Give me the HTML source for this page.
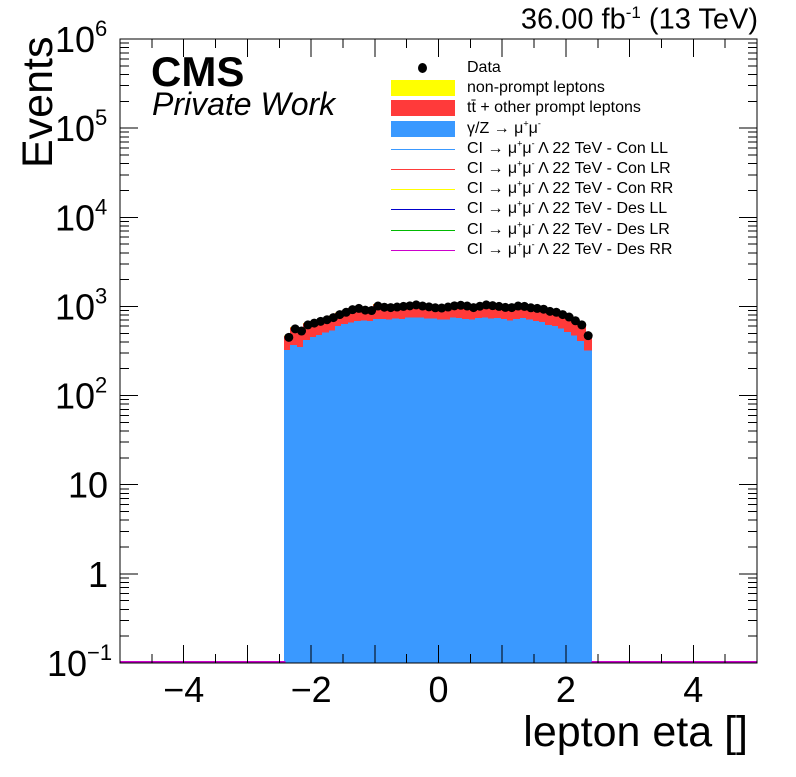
<!DOCTYPE html>
<html><head><meta charset="utf-8"><style>
body{margin:0;background:#fff;}
svg text{font-family:"Liberation Sans",sans-serif;}
.le{position:relative;height:20.2px;white-space:nowrap}
.le .t{position:absolute;left:77px;white-space:nowrap}
sup.s{font-size:9px;line-height:0}
</style></head><body>
<svg id="c" width="796" height="772" xmlns="http://www.w3.org/2000/svg" shape-rendering="crispEdges"></svg>
<script>
const binEdgesStart = -2.4;
const binWidth = 0.1;
const dataVals = [450,560,530,620,650,680,710,750,810,860,920,950,910,900,1010,980,970,985,1000,1015,1040,1010,990,965,960,985,1015,1030,1010,970,1005,1040,1020,1000,975,970,1010,1000,965,950,930,880,860,810,760,690,620,470];
const bluePart = [0.72,0.66,0.66,0.68,0.7,0.7,0.72,0.72,0.74,0.74,0.72,0.72,0.76,0.76,0.72,0.74,0.74,0.74,0.72,0.74,0.72,0.74,0.74,0.76,0.74,0.72,0.74,0.72,0.72,0.74,0.74,0.72,0.72,0.74,0.74,0.72,0.72,0.74,0.74,0.72,0.72,0.7,0.7,0.7,0.68,0.68,0.66,0.68];
const yellowVals = [5,8,6,5,6,5,6,7,8,8,9,10,10,12,14,12,18,20,15,14,12,12,14,16,20,18,24,30,28,20,16,14,12,10,10,9,9,8,8,8,7,7,6,6,5,5,5,5];
const xTickLabels = ["\u22124","\u22122","0","2","4"];
const xTickVals = [-4,-2,0,2,4];

const L=120,R=757,T=39,B=663,xmin=-5,xmax=5,ymin=-1,ymax=6;
const X=v=>L+(v-xmin)/(xmax-xmin)*(R-L);
const Y=v=>B-(Math.log10(v)-ymin)/(ymax-ymin)*(B-T);
const svg=document.getElementById('c');
const NS='http://www.w3.org/2000/svg';
function mk(tag,attrs,parent){const e=document.createElementNS(NS,tag);for(const k in attrs)e.setAttribute(k,attrs[k]);(parent||svg).appendChild(e);return e;}

const gH=mk('g',{});


for(let i=0;i<dataVals.length;i++){
  const x0=Math.floor(X(binEdgesStart+i*binWidth))-1,x1=Math.ceil(X(binEdgesStart+(i+1)*binWidth));
  const tot=dataVals[i]*1.05;
  const blue=dataVals[i]*bluePart[i];
  const redTop=tot-yellowVals[i];
  const ry=mk('rect',{x:x0,y:Y(tot),width:x1-x0,height:B-Y(tot),fill:'#ffff00'},gH);
  
  
  const rr=mk('rect',{x:x0,y:Y(redTop),width:x1-x0,height:B-Y(redTop),fill:'#ff3a3a'},gH);
  
  
  const rb=mk('rect',{x:x0,y:Y(blue),width:x1-x0,height:B-Y(blue),fill:'#3a99ff'},gH);
  
  
}
const ml=mk('path',{d:`M${L} ${B-1}H${X(-2.4)}M${X(2.4)} ${B-1}H${R}`,stroke:'#cc00cc','stroke-width':2,fill:'none'});


const gD=mk('g',{'shape-rendering':'auto'});


for(let i=0;i<dataVals.length;i++){
  const cx=X(binEdgesStart+(i+0.5)*binWidth);
  const c=mk('circle',{cx:cx,cy:Y(dataVals[i]),r:4.5,fill:'#000'},gD);
  
  
}
const fr=mk('rect',{x:L,y:T,width:R-L,height:B-T,fill:'none',stroke:'#000','stroke-width':1});


let d='';
for(let v=-5;v<=5.001;v+=0.5){const x=X(v);const len=(Math.abs(v-Math.round(v))<0.01)?18:9;d+=`M${x} ${B}v${-len}M${x} ${T}v${len}`;}
for(let e=-1;e<6;e++){for(let m=1;m<10;m++){const y=Y(m*Math.pow(10,e));const len=m==1?18:9;if(y<T)continue;d+=`M${L} ${y}h${len}M${R} ${y}h${-len}`;}}
const tk=mk('path',{d:d,stroke:'#000','stroke-width':1,fill:'none'});


xTickVals.forEach((v,i)=>{const t=mk('text',{x:X(v),y:702,'font-size':36,'text-anchor':'middle'});t.textContent=xTickLabels[i];
});
const yl=[[6,'10','6'],[5,'10','5'],[4,'10','4'],[3,'10','3'],[2,'10','2'],[1,'10',''],[0,'1',''],[-1,'10','\u22121']];
yl.forEach(([e,b,s])=>{const y=Y(Math.pow(10,e))+13;const t=mk('text',{x:s?(s.length>1?87:95):108,y:y,'font-size':36,'text-anchor':'end'});t.textContent=b;

if(s){const u=mk('text',{x:s.length>1?87:95,y:y-16,'font-size':22});u.textContent=s;}});
</script>
<div style="position:absolute;left:0;top:0;width:796px;height:772px;font-family:'Liberation Sans',sans-serif;pointer-events:none">
<div style="position:absolute;font-size:43px;transform:rotate(-90deg);transform-origin:left top;top:168px;left:14px;white-space:nowrap">Events</div>
<div style="position:absolute;right:48px;top:708px;font-size:43px;white-space:nowrap">lepton eta []</div>
<div style="position:absolute;right:38px;top:3px;font-size:29px;white-space:nowrap">36.00 fb<sup style="font-size:17px">-1</sup> (13 TeV)</div>
<div style="position:absolute;left:151px;top:48px;font-size:42px;font-weight:bold">CMS</div>
<div style="position:absolute;left:152px;top:86px;font-size:32px;font-style:italic;white-space:nowrap">Private Work</div>
<div style="position:absolute;left:390px;top:58px;width:330px;font-size:16px;line-height:20.2px">
<div class="le"><span style="position:absolute;left:28px;top:5px;width:9px;height:10px;border-radius:50%;background:#000"></span><span class="t">Data</span></div>
<div class="le"><span style="position:absolute;left:1px;top:2px;width:64px;height:16px;background:#ffff00"></span><span class="t">non-prompt leptons</span></div>
<div class="le"><span style="position:absolute;left:1px;top:2px;width:64px;height:16px;background:#ff3a3a"></span><span class="t">tt̄ + other prompt leptons</span></div>
<div class="le"><span style="position:absolute;left:1px;top:2px;width:64px;height:16px;background:#3a99ff"></span><span class="t">γ/Z → μ<sup class="s">+</sup>μ<sup class="s">-</sup></span></div>
<div class="le"><span style="position:absolute;left:1px;top:10px;width:64px;height:1px;background:#3a99ff"></span><span class="t">CI → μ<sup class="s">+</sup>μ<sup class="s">-</sup> Λ 22 TeV - Con LL</span></div>
<div class="le"><span style="position:absolute;left:1px;top:10px;width:64px;height:1px;background:#ff3a3a"></span><span class="t">CI → μ<sup class="s">+</sup>μ<sup class="s">-</sup> Λ 22 TeV - Con LR</span></div>
<div class="le"><span style="position:absolute;left:1px;top:10px;width:64px;height:1px;background:#ffff00"></span><span class="t">CI → μ<sup class="s">+</sup>μ<sup class="s">-</sup> Λ 22 TeV - Con RR</span></div>
<div class="le"><span style="position:absolute;left:1px;top:10px;width:64px;height:1px;background:#0000cc"></span><span class="t">CI → μ<sup class="s">+</sup>μ<sup class="s">-</sup> Λ 22 TeV - Des LL</span></div>
<div class="le"><span style="position:absolute;left:1px;top:10px;width:64px;height:1px;background:#00bb00"></span><span class="t">CI → μ<sup class="s">+</sup>μ<sup class="s">-</sup> Λ 22 TeV - Des LR</span></div>
<div class="le"><span style="position:absolute;left:1px;top:10px;width:64px;height:1px;background:#cc00cc"></span><span class="t">CI → μ<sup class="s">+</sup>μ<sup class="s">-</sup> Λ 22 TeV - Des RR</span></div>
</div>
</div>
</body></html>
